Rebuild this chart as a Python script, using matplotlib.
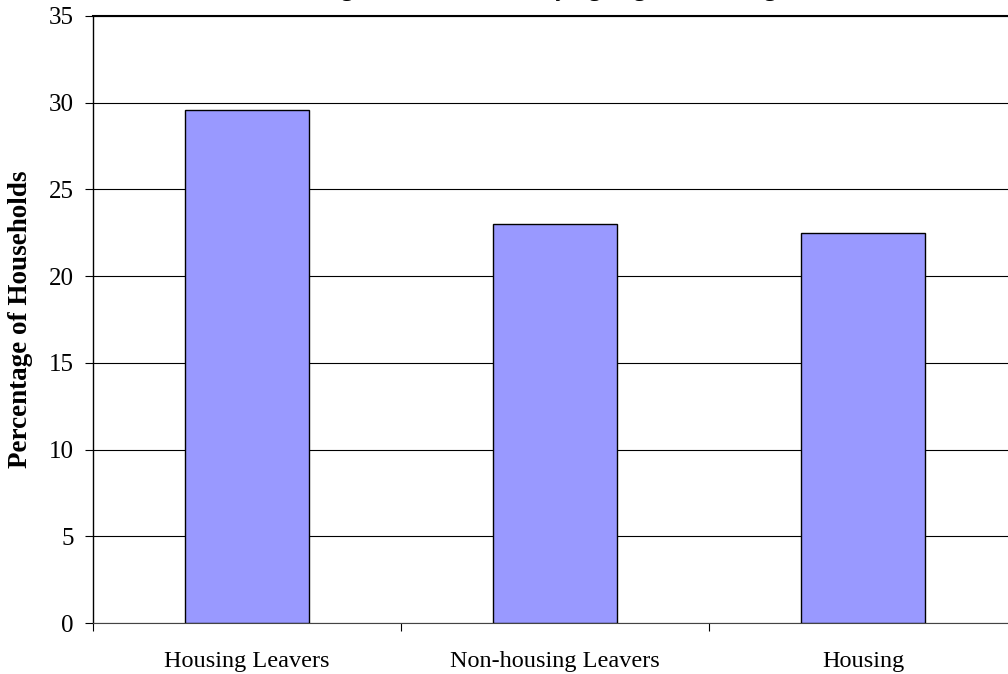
import numpy as np
import matplotlib as mpl
mpl.use('Agg')
import matplotlib.pyplot as plt

categories = ['Housing Leavers', 'Non-housing Leavers', 'Housing']
values = [29.6, 23.0, 22.5]
title = 'Percentage of Households Paying Higher Housing Costs'

plt.rcParams['font.family'] = ['Liberation Serif', 'DejaVu Serif']

fig = plt.figure(figsize=(10.08, 6.74), dpi=100)
ax = fig.add_axes([93/1008, 1 - 623/674, (1017 - 93)/1008, (623 - 16)/674])

x = np.arange(len(categories))
ax.bar(x, values, width=0.4, color='#9999FF', edgecolor='black', lw=1, zorder=3)

ax.set_xlim(-0.5, len(categories) - 0.5)
ax.set_ylim(0, 35)
ax.set_yticks(range(0, 36, 5))
ax.yaxis.grid(True, color='black', lw=0.8, zorder=0)
ax.set_xticks(x)
ax.set_xticklabels(categories, fontsize=17.5)
ax.set_xticks(np.arange(-0.5, len(categories)), minor=True)
ax.tick_params(axis='x', which='major', length=0, pad=20)
ax.tick_params(axis='x', which='minor', length=6, width=0.8, direction='out')
ax.tick_params(axis='y', labelsize=18, length=6, width=0.8, pad=8, direction='out')

ax.spines['right'].set_visible(False)
ax.spines['top'].set_linewidth(1.5)
ax.spines['left'].set_linewidth(1)
ax.spines['bottom'].set_color('#444444')

ax.set_ylabel('Percentage of Households', fontsize=19.5, fontweight='bold')
ax.yaxis.set_label_coords(-0.065, 0.5)
fig.text(0.54, 1.006, title, ha='center', va='baseline', fontsize=18, fontweight='bold')

fig.savefig('out.png', dpi=100)
